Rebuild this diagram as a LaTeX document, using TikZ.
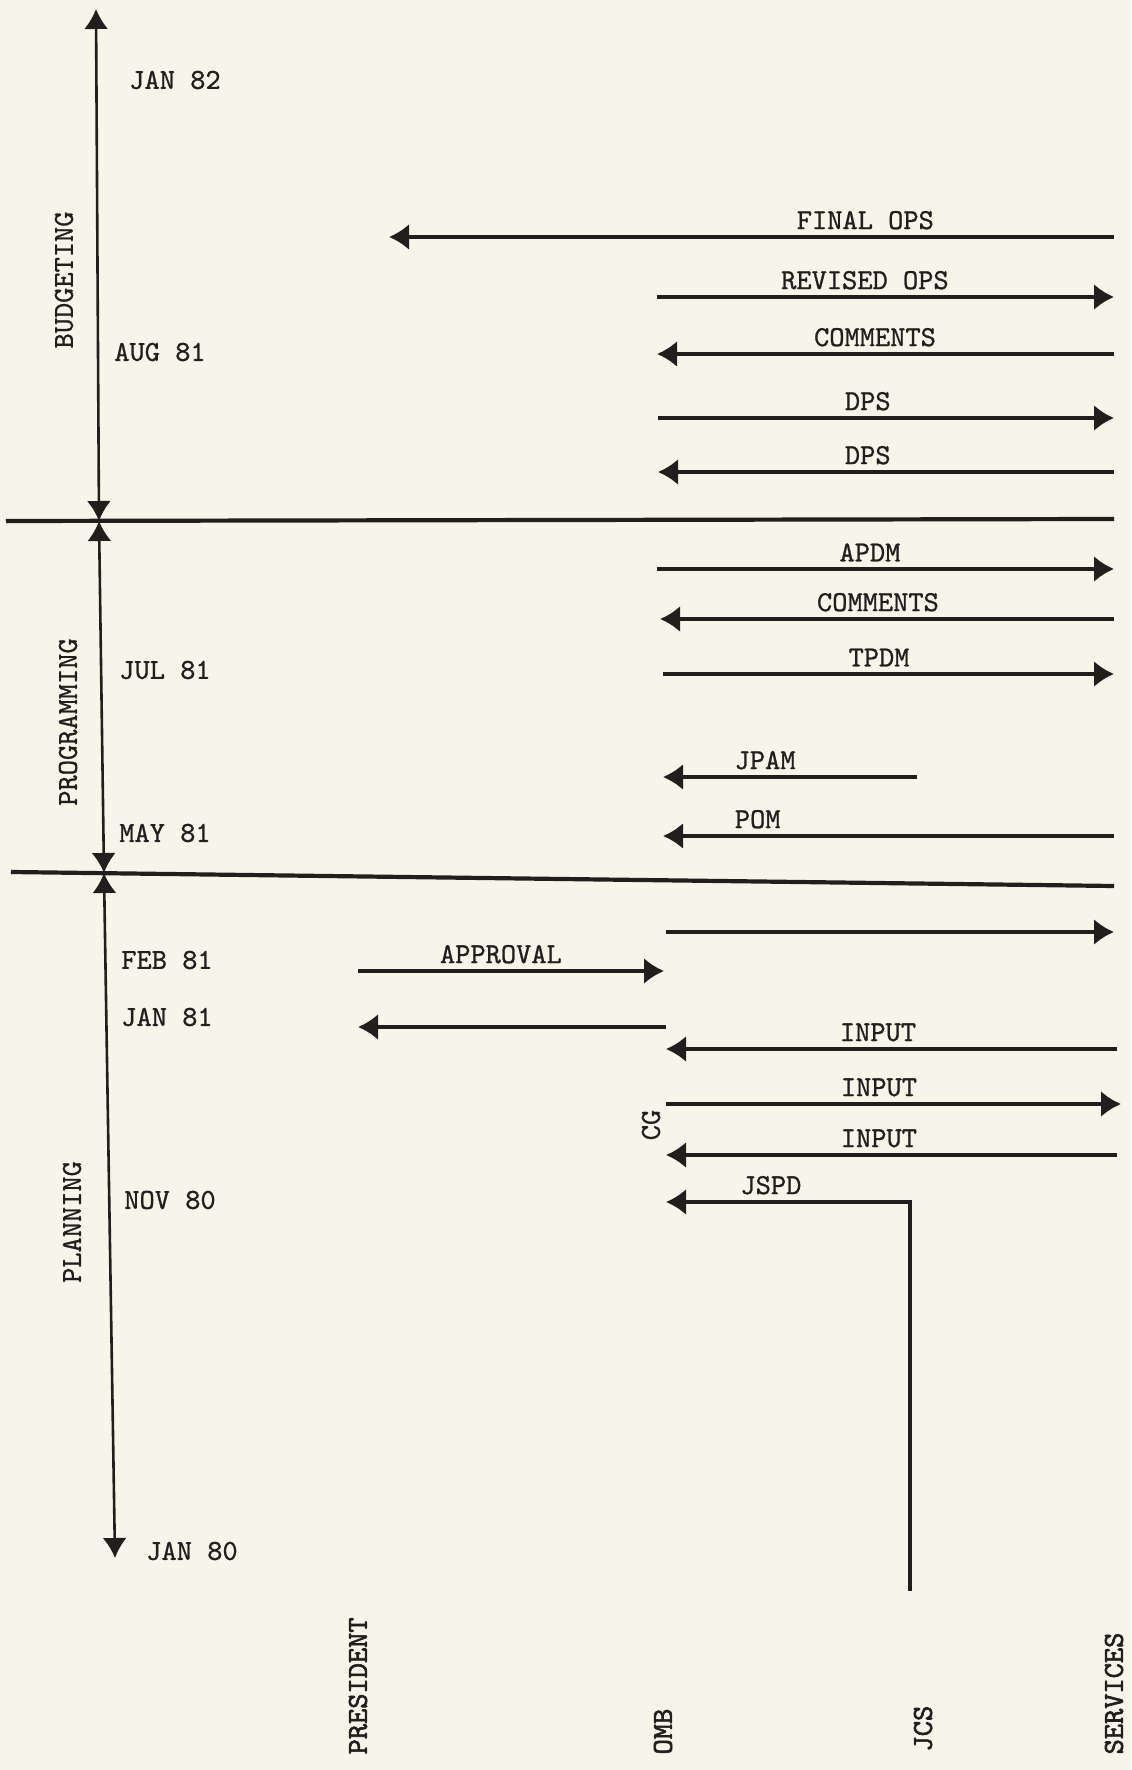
\documentclass[tikz,border=0pt]{standalone}
\usepackage{fontspec}
\newfontfamily\typ{lmmono10-regular.otf}[FakeBold=0.9]
\newfontfamily\typbold{lmmono10-regular.otf}[FakeBold=2.2]
\usepackage{tikz}
\usetikzlibrary{arrows.meta}
\definecolor{paper}{RGB}{245,245,233}
\definecolor{ink}{RGB}{35,30,30}

\begin{document}
\begin{tikzpicture}[x=0.5pt, y=-0.5pt, font=\typ\fontsize{14.5}{17}\selectfont, line width=1.6pt, draw=ink, text=ink]
\tikzstyle{arr}=[-{Latex[length=10pt, width=13pt]}]
\tikzstyle{twin}=[{Latex[length=10pt, width=12pt]}-{Latex[length=10pt, width=12pt]}, line width=1.3pt]
\tikzstyle{sep}=[line width=2.1pt]
\tikzstyle{lbl}=[above, inner sep=3pt]
\tikzstyle{vlbl}=[rotate=90]
\tikzstyle{col}=[rotate=90, anchor=west, inner sep=0pt, font=\typbold\fontsize{14.5}{17}\selectfont]
\fill[paper] (0,0) rectangle (1131,1770);
\useasboundingbox (0,0) rectangle (1131,1770);

\coordinate (t-top) at (96,9);
\coordinate (t-bud) at (99,521);
\coordinate (t-prog) at (104,873);
\coordinate (t-bot) at (115,1558);
\coordinate (sep1-l) at (6,521);
\coordinate (sep1-r) at (1114,519);
\coordinate (sep2-l) at (11,872);
\coordinate (sep2-r) at (1114,886);

\coordinate (svc-final) at (1114,237);
\coordinate (pres-final) at (389,237);
\coordinate (omb-revops) at (657,297);
\coordinate (svc-revops) at (1114,297);
\coordinate (svc-comm) at (1114,354);
\coordinate (omb-comm) at (657,354);
\coordinate (omb-dps) at (658,418);
\coordinate (svc-dps) at (1114,418);
\coordinate (svc-dps2) at (1114,472);
\coordinate (omb-dps2) at (658,472);
\coordinate (omb-apdm) at (657,569);
\coordinate (svc-apdm) at (1114,569);
\coordinate (svc-comm2) at (1114,619);
\coordinate (omb-comm2) at (660,619);
\coordinate (omb-tpdm) at (663,674);
\coordinate (svc-tpdm) at (1114,674);
\coordinate (jcs-jpam) at (917,777);
\coordinate (omb-jpam) at (663,777);
\coordinate (svc-pom) at (1114,836);
\coordinate (omb-pom) at (663,836);
\coordinate (omb-plan) at (666,932);
\coordinate (svc-plan) at (1114,932);
\coordinate (pres-appr) at (358,971);
\coordinate (omb-appr) at (664,971);
\coordinate (omb-cg) at (666,1027);
\coordinate (pres-cg) at (358,1027);
\coordinate (svc-in1) at (1117,1049);
\coordinate (omb-in1) at (666,1049);
\coordinate (omb-in2) at (666,1104);
\coordinate (svc-in2) at (1121,1104);
\coordinate (svc-in3) at (1117,1155);
\coordinate (omb-in3) at (666,1155);
\coordinate (jcs-jspd) at (910,1591);
\coordinate (omb-jspd) at (666,1202);

\node (jan82) at (175,80) {JAN 82};
\node (aug81) at (160,352) {AUG 81};
\node (jul81) at (165,670) {JUL 81};
\node (may81) at (165,833) {MAY 81};
\node (feb81) at (167,960) {FEB 81};
\node (jan81) at (167,1017) {JAN 81};
\node (nov80) at (170,1200) {NOV 80};
\node (jan80) at (192,1551) {JAN 80};
\node[vlbl] (budgeting) at (64,280) {BUDGETING};
\node[vlbl] (programming) at (68,722) {PROGRAMMING};
\node[vlbl] (planning) at (72,1222) {PLANNING};
\node[vlbl] (cg) at (651,1125) {CG};
\node[col] (president) at (358,1756) {PRESIDENT};
\node[col] (omb) at (663,1756) {OMB};
\node[col] (jcs) at (923,1753) {JCS};
\node[col] (services) at (1114,1756) {SERVICES};

\draw[twin] (t-bud) -- (t-top);
\draw[twin] (t-prog) -- (t-bud);
\draw[twin] (t-prog) -- (t-bot);
\draw[sep] (sep1-l) -- (sep1-r);
\draw[sep] (sep2-l) -- (sep2-r);

\draw[arr] (svc-final) -- node[lbl, pos=0.343] (l-final) {FINAL OPS} (pres-final);
\draw[arr] (omb-revops) -- node[lbl, pos=0.455] (l-revops) {REVISED OPS} (svc-revops);
\draw[arr] (svc-comm) -- node[lbl, pos=0.523] (l-comm) {COMMENTS} (omb-comm);
\draw[arr] (omb-dps) -- node[lbl, pos=0.46] (l-dps) {DPS} (svc-dps);
\draw[arr] (svc-dps2) -- node[lbl, pos=0.54] (l-dps2) {DPS} (omb-dps2);
\draw[arr] (omb-apdm) -- node[lbl, pos=0.466] (l-apdm) {APDM} (svc-apdm);
\draw[arr] (svc-comm2) -- node[lbl, pos=0.52] (l-comm2) {COMMENTS} (omb-comm2);
\draw[arr] (omb-tpdm) -- node[lbl, pos=0.479] (l-tpdm) {TPDM} (svc-tpdm);
\draw[arr] (jcs-jpam) -- node[lbl, pos=0.598] (l-jpam) {JPAM} (omb-jpam);
\draw[arr] (svc-pom) -- node[lbl, pos=0.79] (l-pom) {POM} (omb-pom);
\draw[arr] (omb-plan) -- (svc-plan);
\draw[arr] (pres-appr) -- node[lbl, pos=0.467] (l-appr) {APPROVAL} (omb-appr);
\draw[arr] (omb-cg) -- (pres-cg);
\draw[arr] (svc-in1) -- node[lbl, pos=0.53] (l-in1) {INPUT} (omb-in1);
\draw[arr] (omb-in2) -- node[lbl, pos=0.468] (l-in2) {INPUT} (svc-in2);
\draw[arr] (svc-in3) -- node[lbl, pos=0.528] (l-in3) {INPUT} (omb-in3);
\draw[arr] (jcs-jspd) |- node[lbl, pos=0.785] (l-jspd) {JSPD} (omb-jspd);
\end{tikzpicture}
\end{document}
